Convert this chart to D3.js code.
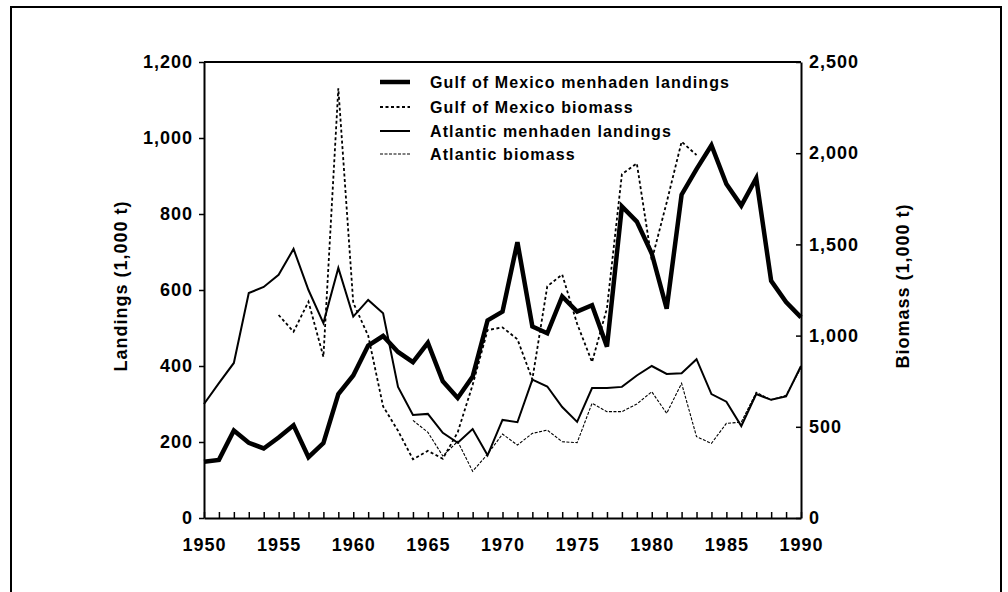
<!DOCTYPE html>
<html>
<head>
<meta charset="utf-8">
<script src="https://cdn.jsdelivr.net/npm/d3@7"></script>
<style>
  html, body { margin: 0; padding: 0; background: #fff; }
  svg { display: block; }
  text { font-family: "Liberation Sans", Arial, sans-serif; font-weight: bold; fill: #000; }
</style>
</head>
<body>
<svg id="chart" width="1008" height="592"></svg>
<script>
// years on the x axis
const years = d3.range(1950, 1991);

// landings, 1,000 t (left axis)
const gulfLandings = [148, 153, 230, 198, 183, 212, 244, 160, 197, 326,
  375, 454, 479, 437, 410, 461, 360, 316, 372, 520,
  543, 726, 504, 486, 583, 543, 560, 451, 820, 780,
  696, 551, 851, 918, 981, 879, 822, 894, 624, 568, 528];
const atlanticLandings = [300, 355, 408, 592, 608, 640, 708, 600, 513, 658,
  530, 574, 539, 345, 271, 274, 224, 198, 234, 165,
  258, 252, 364, 346, 292, 253, 342, 342, 345, 375,
  400, 379, 381, 418, 326, 306, 242, 326, 311, 320, 400];

// biomass, 1,000 t (right axis)
const gulfBiomassYears = d3.range(1955, 1984);
const gulfBiomass = [1113, 1021, 1186, 884, 2356, 1180, 1000, 612, 478, 322,
  368, 325, 470, 730, 1030, 1045, 980, 760, 1270, 1335,
  1065, 855, 1150, 1885, 1944, 1414, 1730, 2063, 1990];
const atlanticBiomassYears = d3.range(1964, 1991);
const atlanticBiomass = [535, 470, 340, 420, 256, 350, 460, 400, 464, 482,
  418, 413, 629, 583, 583, 625, 692, 574, 738, 446,
  409, 519, 525, 689, 648, 673, 823];

const landingTicks = [0, 200, 400, 600, 800, 1000, 1200];
const biomassTicks = [0, 500, 1000, 1500, 2000, 2500];
const yearLabels = [1950, 1955, 1960, 1965, 1970, 1975, 1980, 1985, 1990];

const legendItems = [
  { label: "Gulf of Mexico menhaden landings", width: 4.5, dash: null },
  { label: "Gulf of Mexico biomass", width: 1.8, dash: "3,2.5" },
  { label: "Atlantic menhaden landings", width: 2, dash: null },
  { label: "Atlantic biomass", width: 1.1, dash: "3,1.5" },
];

const svg = d3.select("#chart");
const plot = { left: 204, right: 801, top: 62, bottom: 518 };

// outer frame
svg.append("rect")
  .attr("x", 11).attr("y", 7).attr("width", 990).attr("height", 620)
  .attr("fill", "none").attr("stroke", "#000").attr("stroke-width", 2);

const x = d3.scaleLinear().domain([1950, 1990]).range([plot.left, plot.right]);
const yL = d3.scaleLinear().domain([0, 1200]).range([plot.bottom, plot.top]);
const yR = d3.scaleLinear().domain([0, 2500]).range([plot.bottom, plot.top]);

function styleAxis(g) {
  g.select(".domain").attr("stroke-width", 2);
  g.selectAll(".tick line").attr("stroke-width", 1.5);
  g.selectAll("text")
    .attr("font-family", "Liberation Sans, Arial, sans-serif")
    .attr("font-weight", "bold")
    .attr("font-size", 18)
    .attr("letter-spacing", 1);
}

svg.append("g")
  .attr("transform", `translate(${plot.left},0)`)
  .call(d3.axisLeft(yL).tickValues(landingTicks).tickFormat(d3.format(","))
    .tickSize(5).tickSizeOuter(0).tickPadding(6))
  .call(styleAxis);

svg.append("g")
  .attr("transform", `translate(${plot.right},0)`)
  .call(d3.axisRight(yR).tickValues(biomassTicks).tickFormat(d3.format(","))
    .tickSize(-5).tickSizeOuter(0).tickPadding(8))
  .call(styleAxis);

svg.append("g")
  .attr("transform", `translate(0,${plot.bottom})`)
  .call(d3.axisBottom(x).tickValues(years)
    .tickFormat((d) => yearLabels.includes(d) ? String(d) : "")
    .tickSize(-6).tickSizeOuter(0).tickPadding(20))
  .call(styleAxis);

// top frame of the plot
svg.append("line")
  .attr("x1", plot.left).attr("x2", plot.right).attr("y1", plot.top).attr("y2", plot.top)
  .attr("stroke", "#000").attr("stroke-width", 2);

// axis titles
svg.append("text")
  .attr("transform", "translate(127,286) rotate(-90)")
  .attr("text-anchor", "middle").attr("font-size", 18).attr("letter-spacing", 1)
  .text("Landings (1,000 t)");
svg.append("text")
  .attr("transform", "translate(909,286) rotate(-90)")
  .attr("text-anchor", "middle").attr("font-size", 18).attr("letter-spacing", 1)
  .text("Biomass (1,000 t)");

const lineL = d3.line().x((d) => x(d[0])).y((d) => yL(d[1]));
const lineR = d3.line().x((d) => x(d[0])).y((d) => yR(d[1]));

function drawSeries(pathData, item) {
  svg.append("path")
    .attr("d", pathData)
    .attr("fill", "none")
    .attr("stroke", "#000")
    .attr("stroke-width", item.width)
    .attr("stroke-linejoin", "miter")
    .attr("stroke-dasharray", item.dash);
}

drawSeries(lineR(d3.zip(atlanticBiomassYears, atlanticBiomass)), legendItems[3]);
drawSeries(lineR(d3.zip(gulfBiomassYears, gulfBiomass)), legendItems[1]);
drawSeries(lineL(d3.zip(years, atlanticLandings)), legendItems[2]);
drawSeries(lineL(d3.zip(years, gulfLandings)), legendItems[0]);

// legend
const legend = svg.append("g");
const legendY = [82, 107, 131, 154];
legendItems.forEach((item, i) => {
  legend.append("line")
    .attr("x1", 380).attr("x2", 410)
    .attr("y1", legendY[i]).attr("y2", legendY[i])
    .attr("stroke", "#000")
    .attr("stroke-width", item.width)
    .attr("stroke-dasharray", item.dash);
  legend.append("text")
    .attr("x", 430).attr("y", legendY[i] + 6)
    .attr("font-size", 16).attr("letter-spacing", 1.1)
    .text(item.label);
});
</script>
</body>
</html>
